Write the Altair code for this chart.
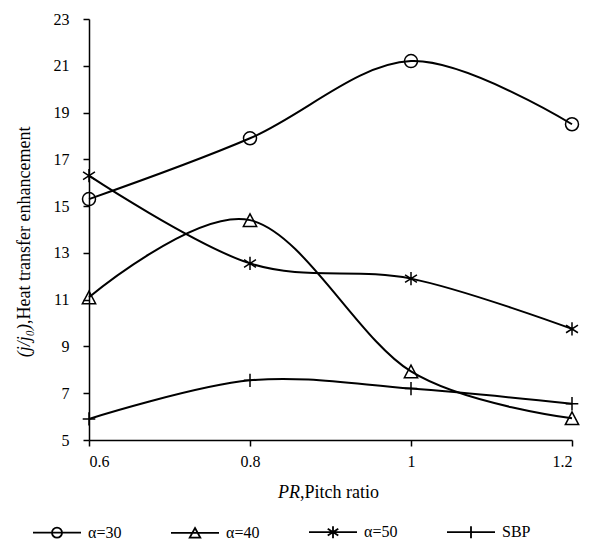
import altair as alt
import pandas as pd

# ---- data ----
pitch_ratio = [0.6, 0.8, 1.0, 1.2]
series_names = ["α=30", "α=40", "α=50", "SBP"]
alpha30 = [15.3, 17.9, 21.2, 18.5]
alpha40 = [11.1, 14.4, 7.93, 5.93]
alpha50 = [16.3, 12.55, 11.9, 9.75]
sbp = [5.9, 7.55, 7.2, 6.55]
x_ticks = [0.6, 0.8, 1.0, 1.2]
y_ticks = [5, 7, 9, 11, 13, 15, 17, 19, 21, 23]

values = [alpha30, alpha40, alpha50, sbp]
rows = []
for name, vals in zip(series_names, values):
    for xv, yv in zip(pitch_ratio, vals):
        rows.append({"pr": xv, "ratio": yv, "series": name})
df = pd.DataFrame(rows)

FONT = "Liberation Serif"

# marker shapes (unit ~7px at size 196)
marker_paths = [
    "M0.93,0A0.93,0.93 0 1,1 -0.93,0A0.93,0.93 0 1,1 0.93,0Z",
    "M0,-0.9L0.95,0.9L-0.95,0.9Z",
    "M0,-0.95L0,0.95M-0.85,-0.55L0.85,0.55M-0.85,0.55L0.85,-0.55",
    "M0,-0.95L0,0.95M-0.9,0L0.9,0",
]
# legend symbols: line + marker (unit 24px at size 2304)
legend_paths = [
    "M-1,0L1,0M0.21,0A0.21,0.21 0 1,1 -0.21,0A0.21,0.21 0 1,1 0.21,0Z",
    "M-1,0L1,0M0,-0.2L0.22,0.2L-0.22,0.2Z",
    "M-1,0L1,0M0,-0.25L0,0.25M-0.22,-0.14L0.22,0.14M-0.22,0.14L0.22,-0.14",
    "M-1,0L1,0M0,-0.25L0,0.25",
]

x_enc = alt.X("pr:Q", scale=alt.Scale(domain=[0.6, 1.2], nice=False),
              axis=alt.Axis(values=x_ticks, format="~g", title=None, labelPadding=7))
y_enc = alt.Y("ratio:Q", scale=alt.Scale(domain=[5, 23], nice=False),
              axis=alt.Axis(values=y_ticks, title=None, labelPadding=14))

base = alt.Chart(df)

lines = base.mark_line(interpolate="cardinal", color="black", strokeWidth=2).encode(
    x=x_enc, y=y_enc, detail="series:N"
)

points = base.mark_point(filled=False, color="black", size=196, strokeWidth=1.5, opacity=1).encode(
    x="pr:Q", y="ratio:Q",
    shape=alt.Shape("series:N", scale=alt.Scale(domain=series_names, range=marker_paths), legend=None),
)

legend_layer = base.transform_filter("datum.pr > 100").mark_point(
    filled=False, color="black", opacity=1
).encode(
    x="pr:Q", y="ratio:Q",
    shape=alt.Shape(
        "series:N",
        scale=alt.Scale(domain=series_names, range=legend_paths),
        legend=alt.Legend(
            title=None, orient="none", legendX=-57, legendY=488, direction="horizontal",
            columns=4, columnPadding=45, symbolSize=2304, symbolStrokeWidth=1.8,
            symbolStrokeColor="black", symbolFillColor="transparent",
            labelFont=FONT, labelFontSize=16, labelColor="black", labelOffset=6, padding=0,
        ),
    ),
)

title_df = pd.DataFrame({"k": [0]})
tchart = alt.Chart(title_df)
x_title_a = tchart.mark_text(text="PR", font=FONT, fontSize=18, fontStyle="italic",
                             align="right", baseline="middle", color="black").encode(
    x=alt.value(211), y=alt.value(474))
x_title_b = tchart.mark_text(text=",Pitch ratio", font=FONT, fontSize=18,
                             align="left", baseline="middle", color="black").encode(
    x=alt.value(211), y=alt.value(474))
y_title_a = tchart.mark_text(text="(j/j₀)", font=FONT, fontSize=18, fontStyle="italic", angle=270,
                             align="right", baseline="middle", color="black").encode(
    x=alt.value(-64), y=alt.value(305))
y_title_b = tchart.mark_text(text=",Heat transfer enhancement", font=FONT, fontSize=18, angle=270,
                             align="left", baseline="middle", color="black").encode(
    x=alt.value(-64), y=alt.value(305))

chart = alt.layer(
    lines, points, legend_layer, x_title_a, x_title_b, y_title_a, y_title_b
).resolve_scale(shape="independent").properties(
    width=483, height=421,
    autosize=alt.AutoSizeParams(type="none"),
    padding={"left": 81, "top": 11, "right": 11, "bottom": 102},
).configure_view(stroke=None).configure_axis(
    grid=False, domainColor="black", domainWidth=1.5, tickColor="black", tickWidth=1.5,
    tickSize=6, labelFont=FONT, labelFontSize=16, labelColor="black",
)

chart.save("out.html", embed_options={"renderer": "svg", "actions": False})
